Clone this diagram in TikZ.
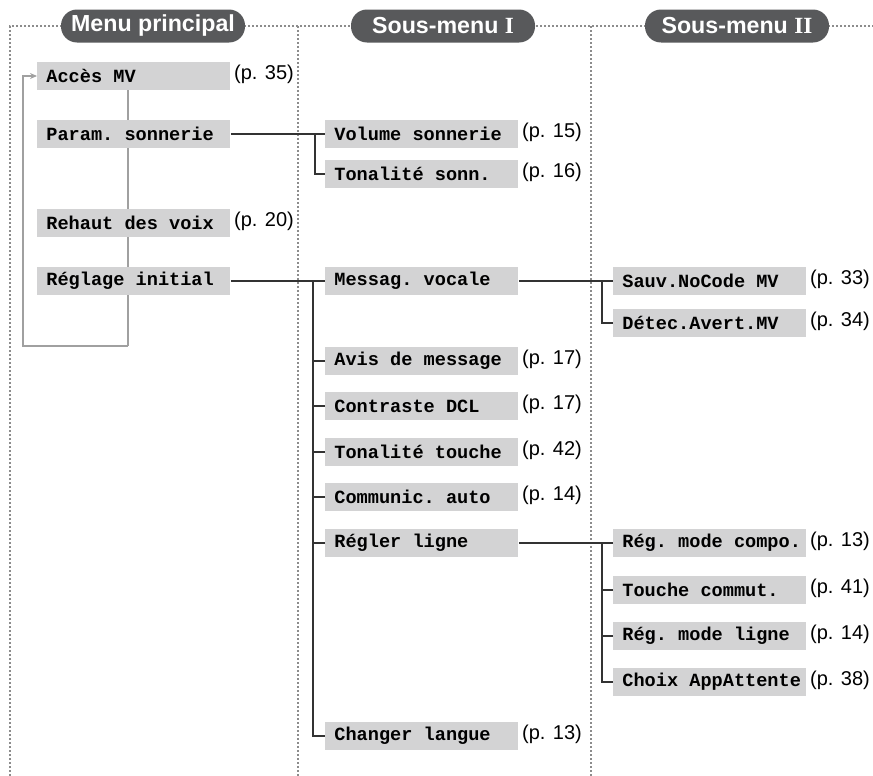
\documentclass[tikz,border=0pt]{standalone}
\usepackage{fontspec}
\setmainfont{Liberation Sans}
\setmonofont[WordSpace={1,0,0}]{Liberation Mono}
\newfontfamily\romannum{Liberation Serif}
\usetikzlibrary{arrows.meta,backgrounds}
\definecolor{boxgray}{HTML}{D3D3D4}
\definecolor{pillgray}{HTML}{58595B}
\definecolor{framegray}{HTML}{8C8C8C}
\definecolor{loopgray}{HTML}{A0A0A0}
\definecolor{linkgray}{HTML}{333333}

\begin{document}
\begin{tikzpicture}[x=0.5pt,y=-0.5pt]
\tikzstyle{item}=[fill=boxgray, anchor=west, minimum height=14pt, inner xsep=4.5pt, inner ysep=0pt, font=\fontsize{9.3}{11}\selectfont\ttfamily\bfseries\frenchspacing, execute at begin node={\hbox to 87.5pt\bgroup}, execute at end node={\hss\egroup}]
\tikzstyle{page}=[anchor=west, inner sep=1.5pt, yshift=1pt, font=\fontsize{10}{12}\selectfont]
\tikzstyle{pill}=[fill=pillgray, text=white, rounded corners=8pt, minimum width=92pt, minimum height=16.5pt, inner sep=0pt, font=\fontsize{11.6}{13}\selectfont\bfseries]
\tikzstyle{frame}=[framegray, line width=0.6pt, dash pattern=on 1pt off 1pt]
\tikzstyle{link}=[linkgray, line width=0.6pt]
\tikzstyle{back}=[loopgray, line width=0.6pt]
\useasboundingbox (0,0) rectangle (873,776);

% dotted frame and headers
\draw[frame] (10,776) -- (10,26) -- (873,26);
\draw[frame] (298,26) -- (298,776);
\draw[frame] (591,26) -- (591,776);
\path (153,26) node[pill](hmain){Menu principal} (443,26) node[pill](hsubi){Sous-menu {\romannum I}} (737,26) node[pill](hsubii){Sous-menu {\romannum II}};

% main menu
\path (37,76) node[item](acces){Accès MV} (37,134) node[item](param){Param. sonnerie};
\path (37,223) node[item](rehaut){Rehaut des voix} (37,281) node[item](reglage){Réglage initial};
\path (acces.east) node[page](pacces){(p. 35)} (rehaut.east) node[page](prehaut){(p. 20)};
\coordinate (loopcol) at (128,346);
\coordinate (loopleft) at (23,346);

% sub-menu I
\path (325,134) node[item](volume){Volume sonnerie} (325,174) node[item](tonsonn){Tonalité sonn.};
\path (325,281) node[item](messag){Messag. vocale} (325,361) node[item](avis){Avis de message};
\path (325,406) node[item](contraste){Contraste DCL} (325,452) node[item](tontouche){Tonalité touche};
\path (325,497) node[item](communic){Communic. auto} (325,543) node[item](regler){Régler ligne};
\path (325,736) node[item](changer){Changer langue};
\path (volume.east) node[page](pvolume){(p. 15)} (tonsonn.east) node[page](ptonsonn){(p. 16)};
\path (avis.east) node[page](pavis){(p. 17)} (contraste.east) node[page](pcontraste){(p. 17)};
\path (tontouche.east) node[page](ptontouche){(p. 42)} (communic.east) node[page](pcommunic){(p. 14)};
\path (changer.east) node[page](pchanger){(p. 13)};

% sub-menu II
\path (613,281) node[item](sauv){Sauv.NoCode MV} (613,323) node[item](detec){Détec.Avert.MV};
\path (613,543) node[item](regcompo){Rég. mode compo.} (613,590) node[item](touchecom){Touche commut.};
\path (613,636) node[item](regligne){Rég. mode ligne} (613,682) node[item](choix){Choix AppAttente};
\path (sauv.east) node[page](psauv){(p. 33)} (detec.east) node[page](pdetec){(p. 34)};
\path (regcompo.east) node[page](pregcompo){(p. 13)} (touchecom.east) node[page](ptouchecom){(p. 41)};
\path (regligne.east) node[page](pregligne){(p. 14)} (choix.east) node[page](pchoix){(p. 38)};

% return loop behind the boxes
\begin{scope}[on background layer]
\draw[back] (acces.south -| loopcol) -- (loopcol);
\end{scope}
\draw[back,-{Stealth[length=3.5pt,width=3pt]}] (loopcol) -- (loopleft) |- (acces.west);

\draw[link] (param) -- (volume);
\draw[link] (volume.west) ++(-10,0) |- (tonsonn.west);
\draw[link] (reglage) -- (messag);
\draw[link] (messag.west) ++(-12,0) |- (changer.west);
\foreach \n in {avis,contraste,tontouche,communic,regler}
  \draw[link] (\n.west) -- ++(-12,0);
\draw[link] (messag) -- (sauv);
\draw[link] (sauv.west) ++(-11,0) |- (detec.west);
\draw[link] (regler) -- (regcompo);
\draw[link] (regcompo.west) ++(-11,0) |- (choix.west);
\foreach \n in {touchecom,regligne}
  \draw[link] (\n.west) -- ++(-11,0);
\end{tikzpicture}
\end{document}
